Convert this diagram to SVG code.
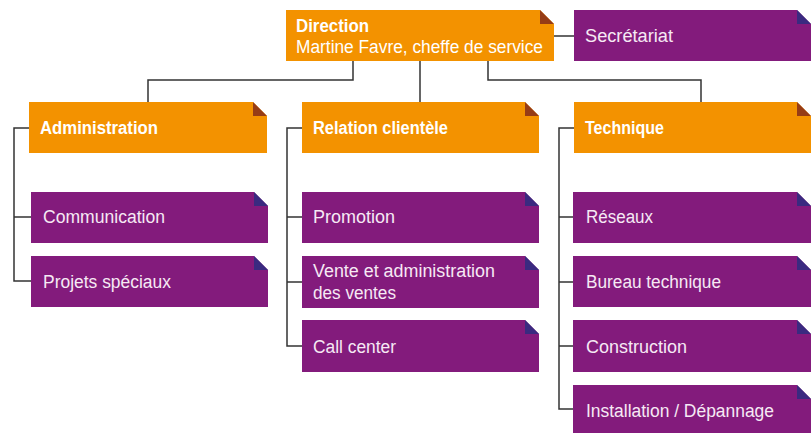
<svg xmlns="http://www.w3.org/2000/svg" width="811" height="433" viewBox="0 0 811 433">
<defs>
<style>
.o{fill:#F39200}
.of{fill:#963C16}
.p{fill:#831B7C}
.pf{fill:#3A2A80}
.t{font-family:"Liberation Sans",Arial,sans-serif;font-size:18px;fill:#FFFFFF}
.tp{font-family:"Liberation Sans",Arial,sans-serif;font-size:18px;fill:#F6E9F4}
.b{font-weight:bold;font-size:17.5px}
.c{fill:none;stroke:#333333;stroke-width:1.5}
</style>
</defs>
<rect width="811" height="433" fill="#FFFFFF"/>
<g id="connectors">
<path class="c" d="M353,61 V80 H148 V102"/>
<path class="c" d="M420,61 V102"/>
<path class="c" d="M488,61 V80 H701 V102"/>
<path class="c" d="M554,36 H574"/>
<path class="c" d="M29,128 H14 V281 H31 M14,217 H31"/>
<path class="c" d="M302,128 H287 V346 H302 M287,217 H302 M287,282 H302"/>
<path class="c" d="M574,128 H559 V409 H573 M559,217 H573 M559,282 H573 M559,346 H573"/>
</g>
<g id="direction">
<path class="o" d="M286,10 H540 L554,24 V61 H286 Z"/>
<path class="of" d="M540,10 L554,24 H540 Z"/>
<text class="t b" x="296" y="32" textLength="73" lengthAdjust="spacingAndGlyphs">Direction</text>
<text class="t" x="296" y="53" textLength="247" lengthAdjust="spacingAndGlyphs">Martine Favre, cheffe de service</text>
</g>
<g id="secretariat">
<path class="p" d="M574,10 H797 L811,24 V61 H574 Z"/>
<path class="pf" d="M797,10 L811,24 H797 Z"/>
<text class="tp" x="585" y="42" textLength="88" lengthAdjust="spacingAndGlyphs">Secrétariat</text>
</g>
<g id="administration">
<path class="o" d="M29,102 H253 L267,116 V153 H29 Z"/>
<path class="of" d="M253,102 L267,116 H253 Z"/>
<text class="t b" x="40" y="134" textLength="118" lengthAdjust="spacingAndGlyphs">Administration</text>
</g>
<g id="relation">
<path class="o" d="M302,102 H525 L539,116 V153 H302 Z"/>
<path class="of" d="M525,102 L539,116 H525 Z"/>
<text class="t b" x="313" y="134" textLength="135" lengthAdjust="spacingAndGlyphs">Relation clientèle</text>
</g>
<g id="technique">
<path class="o" d="M574,102 H797 L811,116 V153 H574 Z"/>
<path class="of" d="M797,102 L811,116 H797 Z"/>
<text class="t b" x="585" y="134" textLength="79" lengthAdjust="spacingAndGlyphs">Technique</text>
</g>
<g id="communication">
<path class="p" d="M31,192 H254 L268,206 V243 H31 Z"/>
<path class="pf" d="M254,192 L268,206 H254 Z"/>
<text class="tp" x="43" y="223" textLength="122" lengthAdjust="spacingAndGlyphs">Communication</text>
</g>
<g id="projets">
<path class="p" d="M31,256 H254 L268,270 V307 H31 Z"/>
<path class="pf" d="M254,256 L268,270 H254 Z"/>
<text class="tp" x="43" y="288" textLength="128" lengthAdjust="spacingAndGlyphs">Projets spéciaux</text>
</g>
<g id="promotion">
<path class="p" d="M302,192 H525 L539,206 V243 H302 Z"/>
<path class="pf" d="M525,192 L539,206 H525 Z"/>
<text class="tp" x="313" y="223" textLength="82" lengthAdjust="spacingAndGlyphs">Promotion</text>
</g>
<g id="vente">
<path class="p" d="M302,256 H525 L539,270 V308 H302 Z"/>
<path class="pf" d="M525,256 L539,270 H525 Z"/>
<text class="tp" x="313" y="277" textLength="182" lengthAdjust="spacingAndGlyphs">Vente et administration</text>
<text class="tp" x="313" y="299" textLength="83" lengthAdjust="spacingAndGlyphs">des ventes</text>
</g>
<g id="callcenter">
<path class="p" d="M302,320 H525 L539,334 V372 H302 Z"/>
<path class="pf" d="M525,320 L539,334 H525 Z"/>
<text class="tp" x="313" y="353" textLength="83" lengthAdjust="spacingAndGlyphs">Call center</text>
</g>
<g id="reseaux">
<path class="p" d="M573,192 H797 L811,206 V243 H573 Z"/>
<path class="pf" d="M797,192 L811,206 H797 Z"/>
<text class="tp" x="586" y="223" textLength="67" lengthAdjust="spacingAndGlyphs">Réseaux</text>
</g>
<g id="bureau">
<path class="p" d="M573,256 H797 L811,270 V307 H573 Z"/>
<path class="pf" d="M797,256 L811,270 H797 Z"/>
<text class="tp" x="586" y="288" textLength="135" lengthAdjust="spacingAndGlyphs">Bureau technique</text>
</g>
<g id="construction">
<path class="p" d="M573,320 H797 L811,334 V372 H573 Z"/>
<path class="pf" d="M797,320 L811,334 H797 Z"/>
<text class="tp" x="586" y="353" textLength="101" lengthAdjust="spacingAndGlyphs">Construction</text>
</g>
<g id="installation">
<path class="p" d="M573,385 H797 L811,399 V436 H573 Z"/>
<path class="pf" d="M797,385 L811,399 H797 Z"/>
<text class="tp" x="586" y="417" textLength="188" lengthAdjust="spacingAndGlyphs">Installation / Dépannage</text>
</g>
</svg>
